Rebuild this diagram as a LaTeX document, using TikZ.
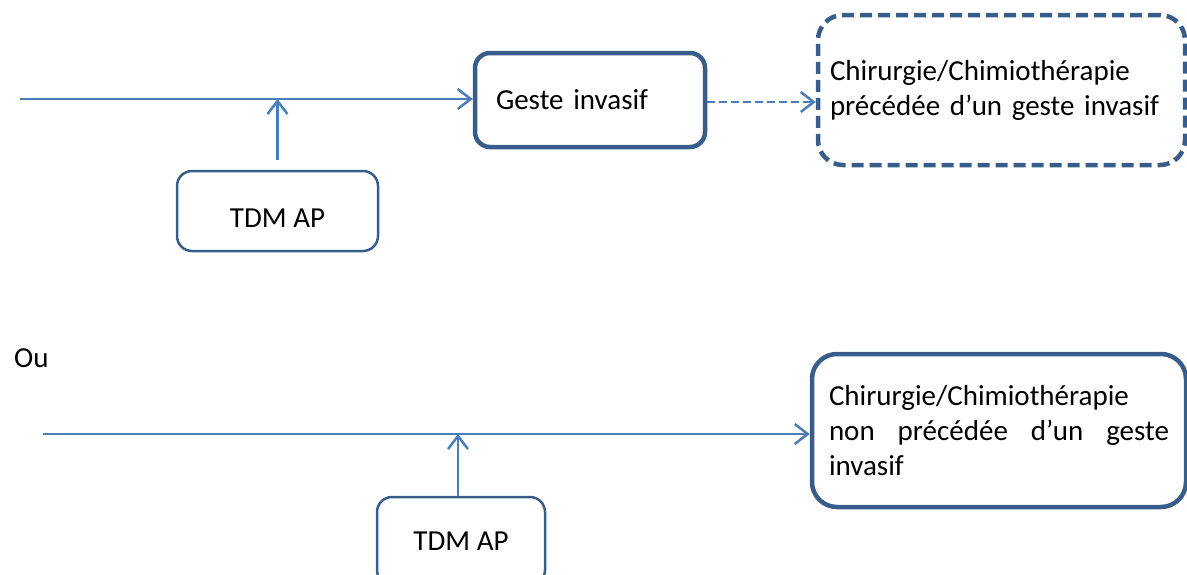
\documentclass[tikz,border=0pt]{standalone}
\usepackage{fontspec}
\setmainfont{Carlito}
\usetikzlibrary{arrows.meta}
\definecolor{boxc}{RGB}{56,93,138}
\definecolor{linec}{RGB}{74,126,187}
\begin{document}
\begin{tikzpicture}[x=1pt,y=-1pt,
  font=\fontsize{29}{35}\selectfont,
  conn/.style={draw=linec, line width=2.5pt, -{Straight Barb[length=13pt,width=20pt,line width=2.5pt]}},
  bigbox/.style={draw=boxc, line width=4.5pt, rounded corners=15pt, align=left},
  smallbox/.style={draw=boxc, line width=2.5pt, rounded corners=15pt, align=center}]
\clip (0,0) rectangle (1187,574);
% top row
\node[bigbox, text width=188pt, inner xsep=21pt, minimum height=94pt] (geste) at (590,100) {Geste invasif};
\node[bigbox, dash pattern=on 12pt off 6pt, rounded corners=25pt, text width=343pt, inner xsep=12pt, minimum height=150pt] (dbox) at (1001.5,90)
  {Chirurgie/Chimiothérapie\\précédée d’un geste invasif};
\node[smallbox, minimum width=201pt, minimum height=80pt, text height=32pt, text depth=0pt] (tdm1) at (277.5,211) {TDM AP};
\coordinate (s1) at (20,99);
\draw[conn] (s1) -- (s1 -| geste.west);
\draw[conn, shorten <=10pt] (tdm1.north) -- (tdm1.north |- s1);
\draw[conn, dash pattern=on 8pt off 4pt] ([yshift=-2pt]geste.east) -- ([yshift=-2pt]geste.east -| dbox.west);
% separator
\node[anchor=base west, inner sep=0pt] (ou) at (14,367) {Ou};
% bottom row
\node[bigbox, rounded corners=25pt, text width=340pt, inner xsep=17pt, minimum height=153pt] (bbox) at (999,430.5)
  {Chirurgie/Chimiothérapie\\\leavevmode\hbox to 340pt{non\hfill précédée\hfill d’un\hfill geste}\\invasif};
\node[smallbox, minimum width=168pt, minimum height=88pt] (tdm2) at (461,541) {TDM AP};
\coordinate (s2) at (43,434);
\draw[conn] (s2) -- (s2 -| bbox.west);
\draw[conn] ([xshift=-3pt]tdm2.north) -- ([xshift=-3pt]tdm2.north |- s2);
\end{tikzpicture}
\end{document}
